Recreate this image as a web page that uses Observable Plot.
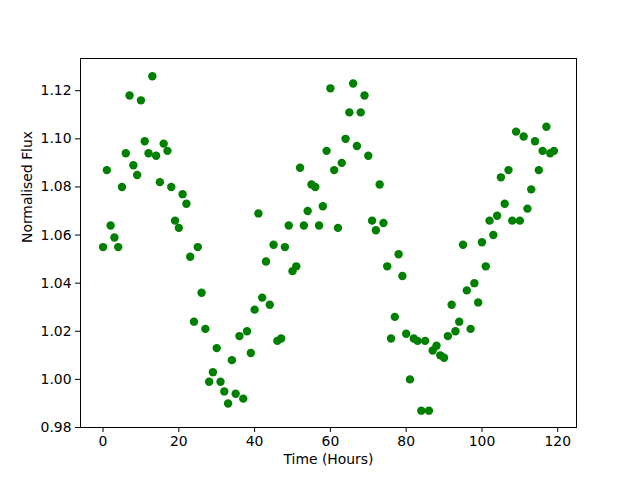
<!DOCTYPE html>
<html>
<head>
<meta charset="utf-8">
<script src="https://cdn.jsdelivr.net/npm/d3@7"></script>
<script src="https://cdn.jsdelivr.net/npm/@observablehq/plot@0.6"></script>
<style>
  html, body { margin: 0; padding: 0; background: #fff; }
  #chart { width: 640px; height: 480px; }
</style>
</head>
<body>
<div id="chart"></div>
<script>
const hours = [
  0,1,2,3,4,5,6,7,8,9,10,11,12,13,14,15,16,17,18,19,
  20,21,22,23,24,25,26,27,28,29,30,31,32,33,34,35,36,37,38,39,
  40,41,42,43,44,45,46,47,48,49,50,51,52,53,54,55,56,57,58,59,
  60,61,62,63,64,65,66,67,68,69,70,71,72,73,74,75,76,77,78,79,
  80,81,82,83,84,85,86,87,88,89,90,91,92,93,94,95,96,97,98,99,
  100,101,102,103,104,105,106,107,108,109,110,111,112,113,114,115,116,117,118,119
];
const flux = [
  1.055,1.087,1.064,1.059,1.055,1.080,1.094,1.118,1.089,1.085,
  1.116,1.099,1.094,1.126,1.093,1.082,1.098,1.095,1.080,1.066,
  1.063,1.077,1.073,1.051,1.024,1.055,1.036,1.021,0.999,1.003,
  1.013,0.999,0.995,0.990,1.008,0.994,1.018,0.992,1.020,1.011,
  1.029,1.069,1.034,1.049,1.031,1.056,1.016,1.017,1.055,1.064,
  1.045,1.047,1.088,1.064,1.070,1.081,1.080,1.064,1.072,1.095,
  1.121,1.087,1.063,1.090,1.100,1.111,1.123,1.097,1.111,1.118,
  1.093,1.066,1.062,1.081,1.065,1.047,1.017,1.026,1.052,1.043,
  1.019,1.000,1.017,1.016,0.987,1.016,0.987,1.012,1.014,1.010,
  1.009,1.018,1.031,1.020,1.024,1.056,1.037,1.021,1.040,1.032,
  1.057,1.047,1.066,1.060,1.068,1.084,1.073,1.087,1.066,1.103,
  1.066,1.101,1.071,1.079,1.099,1.087,1.095,1.105,1.094,1.095
];
const xTicks = [0, 20, 40, 60, 80, 100, 120];
const yTicks = [0.98, 1.00, 1.02, 1.04, 1.06, 1.08, 1.10, 1.12];
const xLabel = "Time (Hours)";
const yLabel = "Normalised Flux";

const data = hours.map((h, i) => ({hour: h, flux: flux[i]}));

const chart = Plot.plot({
  width: 640,
  height: 480,
  marginLeft: 80,
  marginRight: 64,
  marginTop: 58,
  marginBottom: 53,
  style: {fontFamily: "DejaVu Sans", fontSize: "13.9px", color: "black", background: "white"},
  x: {domain: [-5.95, 124.95]},
  y: {domain: [0.98, 1.1334]},
  marks: [
    Plot.frame({stroke: "black", strokeWidth: 1}),
    Plot.axisX({ticks: xTicks, tickSize: 5, tickPadding: 4, label: null, fontSize: 13.9}),
    Plot.axisY({ticks: yTicks, tickSize: 5, tickPadding: 4, tickFormat: d3.format(".2f"), label: null, fontSize: 13.9}),
    Plot.dot(data, {x: "hour", y: "flux", r: 4.2, fill: "#008000", stroke: "none"}),
    Plot.text([xLabel], {frameAnchor: "bottom", dy: 36, fontSize: 13.9, fill: "black"}),
    Plot.text([yLabel], {frameAnchor: "left", dx: -53, rotate: -90, fontSize: 13.9, fill: "black"})
  ]
});
document.getElementById("chart").appendChild(chart);
</script>
</body>
</html>
